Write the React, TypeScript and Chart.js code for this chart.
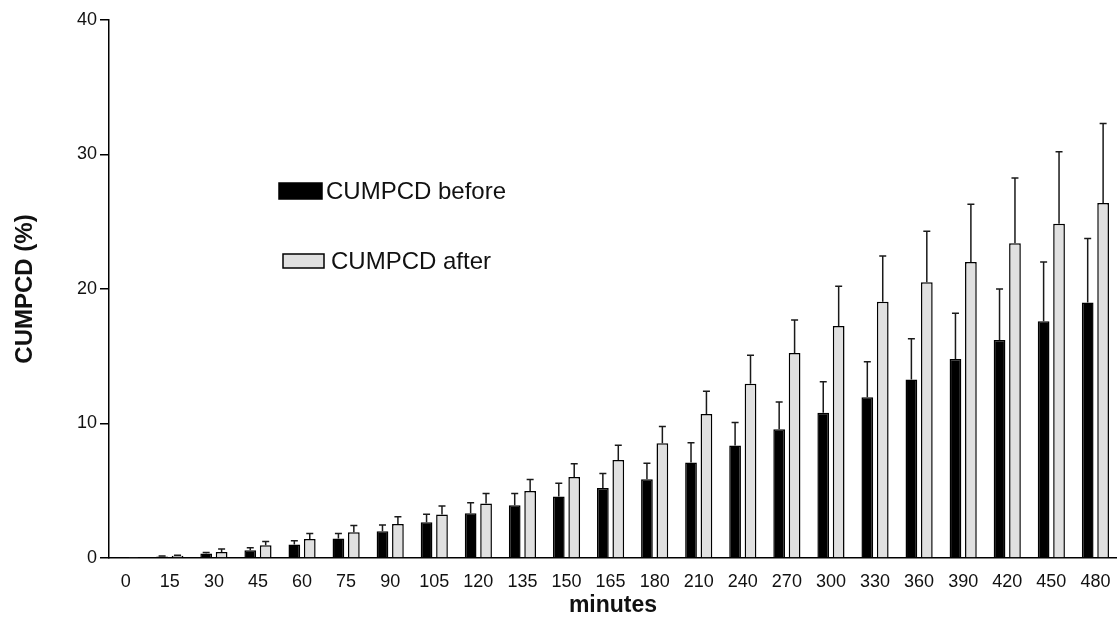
import React, { useEffect, useRef } from "react";
import { Chart, registerables } from "chart.js";

Chart.register(...registerables);

const categories = ["0", "15", "30", "45", "60", "75", "90", "105", "120", "135", "150", "165", "180", "210", "240", "270", "300", "330", "360", "390", "420", "450", "480"];
const beforeValues = [0.08, 0.12, 0.33, 0.58, 1.0, 1.45, 1.99, 2.66, 3.33, 3.92, 4.57, 5.21, 5.86, 7.1, 8.36, 9.58, 10.8, 11.96, 13.27, 14.8, 16.2, 17.6, 19.0];
const beforeErrTop = [0.08, 0.14, 0.4, 0.76, 1.29, 1.83, 2.46, 3.26, 4.1, 4.79, 5.56, 6.28, 7.05, 8.56, 10.07, 11.6, 13.1, 14.6, 16.3, 18.2, 20.0, 22.0, 23.76];
const afterValues = [0.08, 0.17, 0.45, 0.95, 1.41, 1.91, 2.52, 3.24, 4.05, 4.99, 6.03, 7.29, 8.53, 10.7, 12.95, 15.24, 17.24, 19.05, 20.5, 22.0, 23.4, 24.85, 26.4];
const afterErrTop = [0.08, 0.2, 0.66, 1.22, 1.83, 2.41, 3.07, 3.87, 4.79, 5.83, 7.0, 8.39, 9.77, 12.4, 15.08, 17.7, 20.2, 22.45, 24.3, 26.3, 28.25, 30.2, 32.3];
const yTicks = [0, 10, 20, 30, 40];
const seriesLabels = ["CUMPCD before", "CUMPCD after"];

const FONT = "'Liberation Sans', Arial, Helvetica, sans-serif";

const errorBarPlugin = {
  id: "errorBars",
  afterDatasetsDraw(chart: any) {
    const ctx = chart.ctx;
    const yScale = chart.scales.y;
    const tops = [beforeErrTop, afterErrTop];
    ctx.save();
    ctx.strokeStyle = "#1a1a1a";
    ctx.lineWidth = 1.5;
    chart.data.datasets.forEach((ds: any, di: number) => {
      const meta = chart.getDatasetMeta(di);
      meta.data.forEach((bar: any, i: number) => {
        const top = tops[di][i];
        const v = ds.data[i].y;
        if (top <= v) return;
        const x = bar.x;
        const y0 = yScale.getPixelForValue(v);
        const y1 = yScale.getPixelForValue(top);
        ctx.beginPath();
        ctx.moveTo(x, y0);
        ctx.lineTo(x, y1);
        ctx.moveTo(x - 3.5, y1);
        ctx.lineTo(x + 3.5, y1);
        ctx.stroke();
      });
    });
    ctx.restore();
  },
};

const legendPlugin = {
  id: "customLegend",
  afterDraw(chart: any) {
    const ctx = chart.ctx;
    ctx.save();
    const items = [
      { x: 279, y: 183, w: 43, h: 16, fill: "#000000", tx: 326 },
      { x: 283, y: 254, w: 41, h: 14, fill: "#e0e0e0", tx: 331 },
    ];
    items.forEach((it, i) => {
      ctx.fillStyle = it.fill;
      ctx.fillRect(it.x, it.y, it.w, it.h);
      ctx.strokeStyle = "#000";
      ctx.lineWidth = 1.5;
      ctx.strokeRect(it.x, it.y, it.w, it.h);
      ctx.fillStyle = "#111";
      ctx.font = `24px ${FONT}`;
      ctx.textBaseline = "middle";
      ctx.textAlign = "left";
      ctx.fillText(seriesLabels[i], it.tx, it.y + it.h / 2 + 1);
    });
    ctx.restore();
  },
};

export default function App() {
  const ref = useRef<HTMLCanvasElement | null>(null);
  useEffect(() => {
    document.body.style.margin = "0";
    if (!ref.current) return;
    const chart = new Chart(ref.current, {
      type: "bar",
      data: {
        datasets: [
          {
            label: seriesLabels[0],
            data: beforeValues.map((v, i) => ({ x: i, y: v })),
            backgroundColor: "#000000",
            borderColor: "#000000",
            borderWidth: 1.5,
            categoryPercentage: 0.7,
            barPercentage: 0.76,
          },
          {
            label: seriesLabels[1],
            data: afterValues.map((v, i) => ({ x: i, y: v })),
            backgroundColor: "#e0e0e0",
            borderColor: "#000000",
            borderWidth: 1.5,
            categoryPercentage: 0.7,
            barPercentage: 0.76,
          },
        ],
      },
      options: {
        animation: false,
        responsive: false,
        maintainAspectRatio: false,
        layout: { padding: { top: 20, right: 0, left: 0, bottom: 0 } },
        plugins: {
          legend: { display: false },
          tooltip: { enabled: false },
        },
        scales: {
          x: {
            type: "linear",
            min: -0.38,
            max: 22.49,
            offset: false,
            afterBuildTicks(scale: any) {
              scale.ticks = categories.map((_, i) => ({ value: i }));
            },
            grid: { display: false, drawTicks: false },
            border: { display: true, color: "#000", width: 1.5 },
            ticks: {
              color: "#111",
              font: { family: FONT, size: 18 },
              padding: 13,
              maxRotation: 0,
              autoSkip: false,
              callback: (v: any) => categories[v] ?? "",
            },
            title: { display: true, text: "minutes", color: "#111", font: { family: FONT, size: 23, weight: "bold" }, padding: { top: 0, bottom: 0 } },
            afterFit(scale: any) {
              scale.height = 61;
              scale.paddingRight = 0;
              scale.paddingLeft = 0;
            },
          },
          y: {
            min: 0,
            max: 40,
            afterBuildTicks(scale: any) {
              scale.ticks = yTicks.map((v) => ({ value: v }));
            },
            grid: { display: true, drawOnChartArea: false, drawTicks: true, tickLength: 9, color: "#000", lineWidth: 1.5 },
            border: { display: true, color: "#000", width: 1.5 },
            ticks: { color: "#111", font: { family: FONT, size: 18 }, padding: 3 },
            title: { display: true, text: "CUMPCD (%)", color: "#111", font: { family: FONT, size: 24, weight: "bold" }, padding: { top: 11, bottom: 0 } },
            afterFit(scale: any) {
              scale.width = 109;
            },
          },
        },
      },
      plugins: [errorBarPlugin, legendPlugin],
    });
    return () => chart.destroy();
  }, []);
  return (
    <div style={{ width: 1117, height: 619, position: "relative" }}>
      <canvas ref={ref} width={1117} height={619} style={{ display: "block" }} />
    </div>
  );
}
